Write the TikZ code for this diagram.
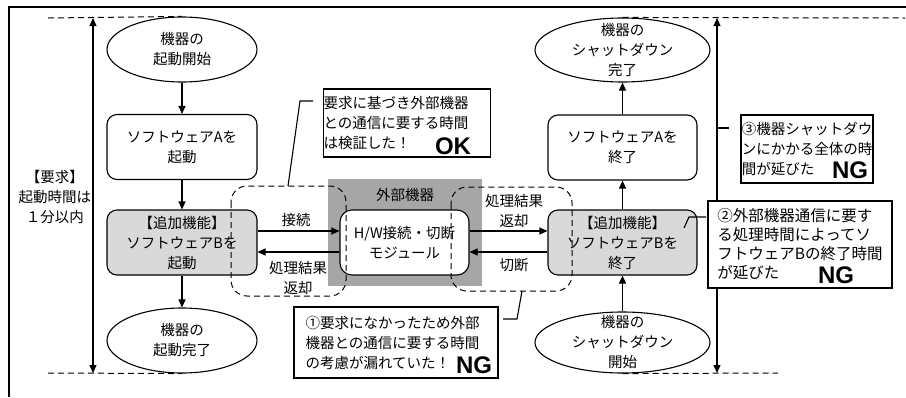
\documentclass[tikz,border=0pt]{standalone}
\usepackage{fontspec}
\setmainfont{Noto Sans CJK JP}
\newfontfamily\ngfont{Liberation Sans}
\usetikzlibrary{shapes.geometric,arrows.meta}
\definecolor{boxgray}{RGB}{217,217,217}
\definecolor{extgray}{RGB}{166,166,166}
\begin{document}
\begin{tikzpicture}[x=1pt,y=-1pt,
  every node/.style={font=\fontsize{14.5}{20}\selectfont, inner sep=0pt},
  ln/.style={line width=1.1pt},
  arr/.style={ln,-{Triangle[length=8pt,width=7pt]}},
  darr/.style={ln,{Triangle[length=8pt,width=7pt]}-{Triangle[length=8pt,width=7pt]}},
  dline/.style={line width=1pt, dash pattern=on 6pt off 4pt},
  ellip/.style={ellipse, draw, ln, fill=white},
  rbox/.style={draw, ln, rounded corners=10pt, align=center, minimum width=150pt, minimum height=65pt, fill=white},
  graybox/.style={rbox, fill=boxgray},
  callout/.style={draw, ln, fill=white, align=left},
  ngmark/.style={font=\ngfont\bfseries\fontsize{24}{24}\selectfont}
]
\useasboundingbox (0,0) rectangle (906,397);

% outer frame
\coordinate (f1) at (9,397);
\coordinate (f2) at (9,7);
\coordinate (f3) at (906,7);
\draw[ln] (f1) -- (f2) -- (f3);

% left column
\node[ellip, minimum width=150pt, minimum height=65pt] (e1) at (182,49.5) {};
\node[align=center] (e1t) at (e1) {機器の\\起動開始};
\node[rbox] (a1) at (182,147) {ソフトウェアAを\\起動};
\node[graybox] (b1) at (182,242.5) {【追加機能】\\ソフトウェアBを\\起動};
\node[ellip, minimum width=150pt, minimum height=65pt] (e2) at (182,340.5) {};
\node[align=center] (e2t) at (e2) {機器の\\起動完了};
\draw[arr] (e1) -- (a1);
\draw[arr] (a1) -- (b1);
\draw[arr] (b1) -- (e2);

% external device
\node[fill=extgray, minimum width=154pt, minimum height=107pt] (ext) at (405,232.5) {};
\node (extl) at (405,195) {外部機器};
\node[draw, ln, fill=white, rounded corners=12pt, minimum width=129pt, minimum height=65pt, align=center] (mod) at (404.5,242.5) {H/W接続・切断\\モジュール};

% right column
\node[ellip, minimum width=175pt, minimum height=64pt] (e3) at (622.5,50) {};
\node[align=center] (e3t) at (e3) {機器の\\シャットダウン\\完了};
\node[rbox, minimum width=149pt] (a2) at (622.5,147.5) {ソフトウェアAを\\終了};
\node[graybox, minimum width=149pt] (b2) at (622.5,242.5) {【追加機能】\\ソフトウェアBを\\終了};
\node[ellip, minimum width=175pt, minimum height=61pt] (e4) at (622.5,342.5) {};
\node[align=center] (e4t) at (e4) {機器の\\シャットダウン\\開始};
\draw[arr] (b2) -- (a2);
\draw[arr] (a2) -- (e3);
\draw[arr] (e4) -- (b2);

% horizontal connections
\draw[arr] ([yshift=11.5pt]b1.east) -- ([yshift=11.5pt]mod.west);
\draw[arr] ([yshift=-9.5pt]mod.west) -- ([yshift=-9.5pt]b1.east);
\draw[arr] ([yshift=11.5pt]mod.east) -- ([yshift=11.5pt]b2.west);
\draw[arr] ([yshift=-9.5pt]b2.west) -- ([yshift=-9.5pt]mod.east);
\node (lb1) at (296,220) {接続};
\node[align=center] (lb2) at (298,278) {処理結果\\返却};
\node[align=center] (lb3) at (514,211) {処理結果\\返却};
\node (lb4) at (514,265) {切断};

% requirement arrows
\node[align=center] (req) at (55,197) {【要求】\\起動時間は\\１分以内};
\coordinate (lt) at (93,18);
\coordinate (lb) at (93,373);
\coordinate (ltl) at (48,18);
\coordinate (lbl) at (48,373);
\draw[darr] (lt) -- (lb);
\draw[dline] (ltl) -- (e1.north);
\draw[dline] (lbl) -- (e2.south);
\coordinate (rt) at (717,18);
\coordinate (rb) at (717,373);
\coordinate (rtr) at (905,18);
\coordinate (rbr) at (778,373);
\draw[darr] (rt) -- (rb);
\draw[dline] (e3.north) -- (rtr);
\draw[dline] (e4.south) -- (rbr);

% dashed regions
\draw[dline, rounded corners=16pt] (231,186) rectangle (346,296);
\draw[dline, rounded corners=16pt] (451,187) rectangle (572,291);

% callouts
\node[callout, minimum width=158pt, minimum height=68pt] (ok) at (407,123) {要求に基づき外部機器\\との通信に要する時間\\は検証した！\hspace*{5.5em}};
\node[ngmark] (okm) at (453,146) {OK};
\coordinate (okc1) at (313,101);
\coordinate (okc2) at (300,101);
\coordinate (okc3) at (288,186);
\draw[ln] (okc1) -- (okc2) -- (okc3);

\node[callout, minimum width=204pt, minimum height=71pt] (ng1) at (396,342.5) {①要求になかったため外部\\機器との通信に要する時間\\の考慮が漏れていた！\hspace*{2.5em}};
\node[ngmark] (ng1m) at (474,365) {NG};
\coordinate (n1a) at (503,319);
\coordinate (n1b) at (517,319);
\coordinate (n1c) at (522,291);
\draw[ln] (n1a) -- (n1b) -- (n1c);

\node[callout, minimum width=132pt, minimum height=68pt] (ng3) at (807,149) {③機器シャットダウ\\ンにかかる全体の時\\間が延びた\hspace*{4em}};
\node[ngmark] (ng3m) at (850,170) {NG};
\coordinate (n3a) at (717,128);
\coordinate (n3b) at (729,128);
\draw[ln] (n3a) -- (n3b);

\node[callout, minimum width=184pt, minimum height=87pt, font=\fontsize{15.5}{19}\selectfont] (ng2) at (800,244.5) {②外部機器通信に要す\\る処理時間によってソ\\フトウェアBの終了時間\\が延びた\hspace*{5em}};
\node[ngmark] (ng2m) at (836,275) {NG};
\coordinate (n2a) at (684,228);
\coordinate (n2b) at (689,217);
\coordinate (n2c) at (706,217);
\draw[ln] (n2a) -- (n2b) -- (n2c);
\end{tikzpicture}
\end{document}
